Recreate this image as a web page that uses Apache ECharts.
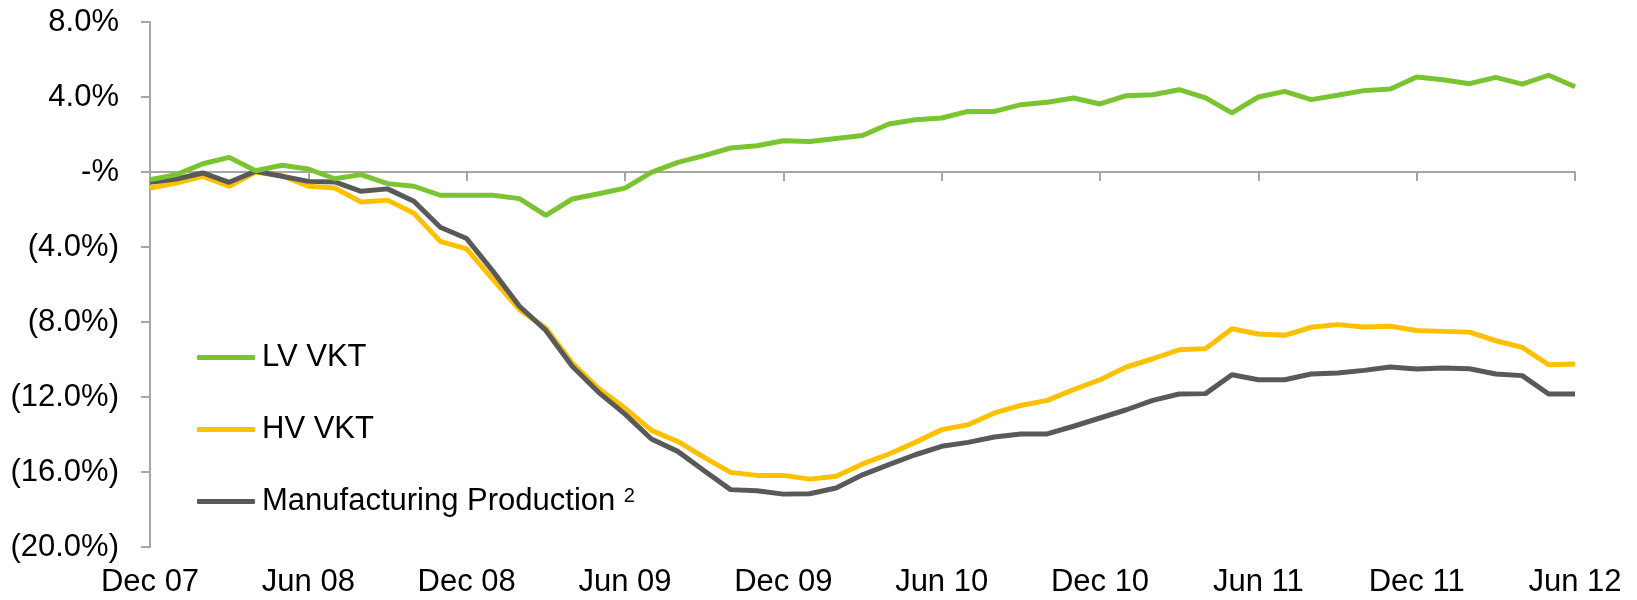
<!DOCTYPE html>
<html>
<head>
<meta charset="utf-8">
<script src="https://cdn.jsdelivr.net/npm/echarts@6/dist/echarts.min.js"></script>
<style>
  html, body { margin: 0; padding: 0; background: #fff; }
  #chart { width: 1637px; height: 600px; }
</style>
</head>
<body>
<div id="chart"></div>
<script>
const months = [
  'Dec 07', 'Jan 08', 'Feb 08', 'Mar 08', 'Apr 08', 'May 08', 'Jun 08', 'Jul 08', 'Aug 08', 'Sep 08', 'Oct 08', 'Nov 08',
  'Dec 08', 'Jan 09', 'Feb 09', 'Mar 09', 'Apr 09', 'May 09', 'Jun 09', 'Jul 09', 'Aug 09', 'Sep 09', 'Oct 09', 'Nov 09',
  'Dec 09', 'Jan 10', 'Feb 10', 'Mar 10', 'Apr 10', 'May 10', 'Jun 10', 'Jul 10', 'Aug 10', 'Sep 10', 'Oct 10', 'Nov 10',
  'Dec 10', 'Jan 11', 'Feb 11', 'Mar 11', 'Apr 11', 'May 11', 'Jun 11', 'Jul 11', 'Aug 11', 'Sep 11', 'Oct 11', 'Nov 11',
  'Dec 11', 'Jan 12', 'Feb 12', 'Mar 12', 'Apr 12', 'May 12', 'Jun 12'
];

// % change
const lvVkt = [
  -0.41, -0.14, 0.44, 0.78, 0.07, 0.36, 0.16, -0.36, -0.14, -0.62, -0.76, -1.24,
  -1.24, -1.24, -1.42, -2.31, -1.44, -1.16, -0.86, -0.02, 0.51, 0.87, 1.28, 1.40,
  1.67, 1.63, 1.79, 1.95, 2.56, 2.79, 2.88, 3.23, 3.23, 3.59, 3.72, 3.95,
  3.63, 4.07, 4.12, 4.39, 3.95, 3.15, 4.00, 4.30, 3.86, 4.09, 4.34, 4.43,
  5.07, 4.92, 4.71, 5.05, 4.69, 5.16, 4.55
];
const hvVkt = [
  -0.85, -0.59, -0.23, -0.76, 0.0, -0.2, -0.76, -0.85, -1.6, -1.5, -2.2, -3.7,
  -4.1, -5.74, -7.34, -8.32, -10.19, -11.55, -12.6, -13.78, -14.37, -15.22, -16.02, -16.18,
  -16.18, -16.38, -16.23, -15.57, -15.04, -14.42, -13.74, -13.48, -12.85, -12.45, -12.18, -11.61,
  -11.08, -10.40, -9.96, -9.48, -9.42, -8.36, -8.64, -8.71, -8.28, -8.14, -8.27, -8.23,
  -8.45, -8.50, -8.54, -9.00, -9.35, -10.28, -10.24
];
const manufacturing = [
  -0.55, -0.37, -0.05, -0.55, 0.04, -0.23, -0.5, -0.53, -1.03, -0.9, -1.56, -2.95,
  -3.55, -5.30, -7.16, -8.45, -10.36, -11.75, -12.91, -14.24, -14.90, -15.93, -16.94, -17.0,
  -17.18, -17.16, -16.85, -16.15, -15.61, -15.08, -14.63, -14.42, -14.13, -13.97, -13.97, -13.56,
  -13.12, -12.68, -12.18, -11.84, -11.82, -10.81, -11.08, -11.08, -10.77, -10.72, -10.58, -10.40,
  -10.51, -10.45, -10.49, -10.77, -10.86, -11.84, -11.84
];

const font = "'Liberation Sans', Arial, sans-serif";
const axisColor = '#a6a6a6';

const fmtPct = (v) => {
  if (v === 0) return '-%';
  if (v < 0) return '(' + Math.abs(v).toFixed(1) + '%)';
  return v.toFixed(1) + '%';
};

const chart = echarts.init(document.getElementById('chart'));

chart.setOption({
  animation: false,
  textStyle: { fontFamily: font },
  grid: { left: 150, right: 62, top: 22, bottom: 53 },
  legend: {
    orient: 'vertical',
    left: 192,
    top: 337,
    itemWidth: 58,
    itemHeight: 5,
    itemGap: 41,
    icon: 'roundRect',
    data: ['LV VKT', 'HV VKT', 'Manufacturing Production'],
    formatter: (name) => name === 'Manufacturing Production' ? name + ' {sup|2}' : name,
    textStyle: {
      fontFamily: font, fontSize: 31, color: '#000', lineHeight: 31, padding: [0, 0, 0, 2],
      rich: { sup: { fontFamily: font, fontSize: 20, color: '#000', verticalAlign: 'top', lineHeight: 31 } }
    }
  },
  xAxis: [
    {
      type: 'category',
      data: months,
      boundaryGap: false,
      position: 'bottom',
      axisLine: { show: false, onZero: false },
      axisTick: { show: false },
      axisLabel: { interval: 5, color: '#000', fontSize: 31, fontFamily: font, margin: 20 }
    },
    {
      type: 'category',
      data: months,
      boundaryGap: false,
      position: 'bottom',
      axisLine: { onZero: true, lineStyle: { color: axisColor, width: 2 } },
      axisTick: { interval: 5, length: 9, lineStyle: { color: axisColor, width: 2 } },
      axisLabel: { show: false }
    }
  ],
  yAxis: {
    type: 'value',
    min: -20,
    max: 8,
    interval: 4,
    axisLine: { show: true, onZero: false, lineStyle: { color: axisColor, width: 2 } },
    axisTick: { show: true, length: 9, lineStyle: { color: axisColor, width: 2 } },
    splitLine: { show: false },
    axisLabel: { formatter: fmtPct, color: '#000', fontSize: 31, fontFamily: font, margin: 31 }
  },
  series: [
    {
      name: 'HV VKT', type: 'line', data: hvVkt, symbol: 'none', z: 2,
      itemStyle: { color: '#ffc000' },
      lineStyle: { color: '#ffc000', width: 5 }
    },
    {
      name: 'Manufacturing Production', type: 'line', data: manufacturing, symbol: 'none', z: 3,
      itemStyle: { color: '#595959' },
      lineStyle: { color: '#595959', width: 5 }
    },
    {
      name: 'LV VKT', type: 'line', data: lvVkt, symbol: 'none', z: 4,
      itemStyle: { color: '#7ac431' },
      lineStyle: { color: '#7ac431', width: 5 }
    }
  ]
});
</script>
</body>
</html>
